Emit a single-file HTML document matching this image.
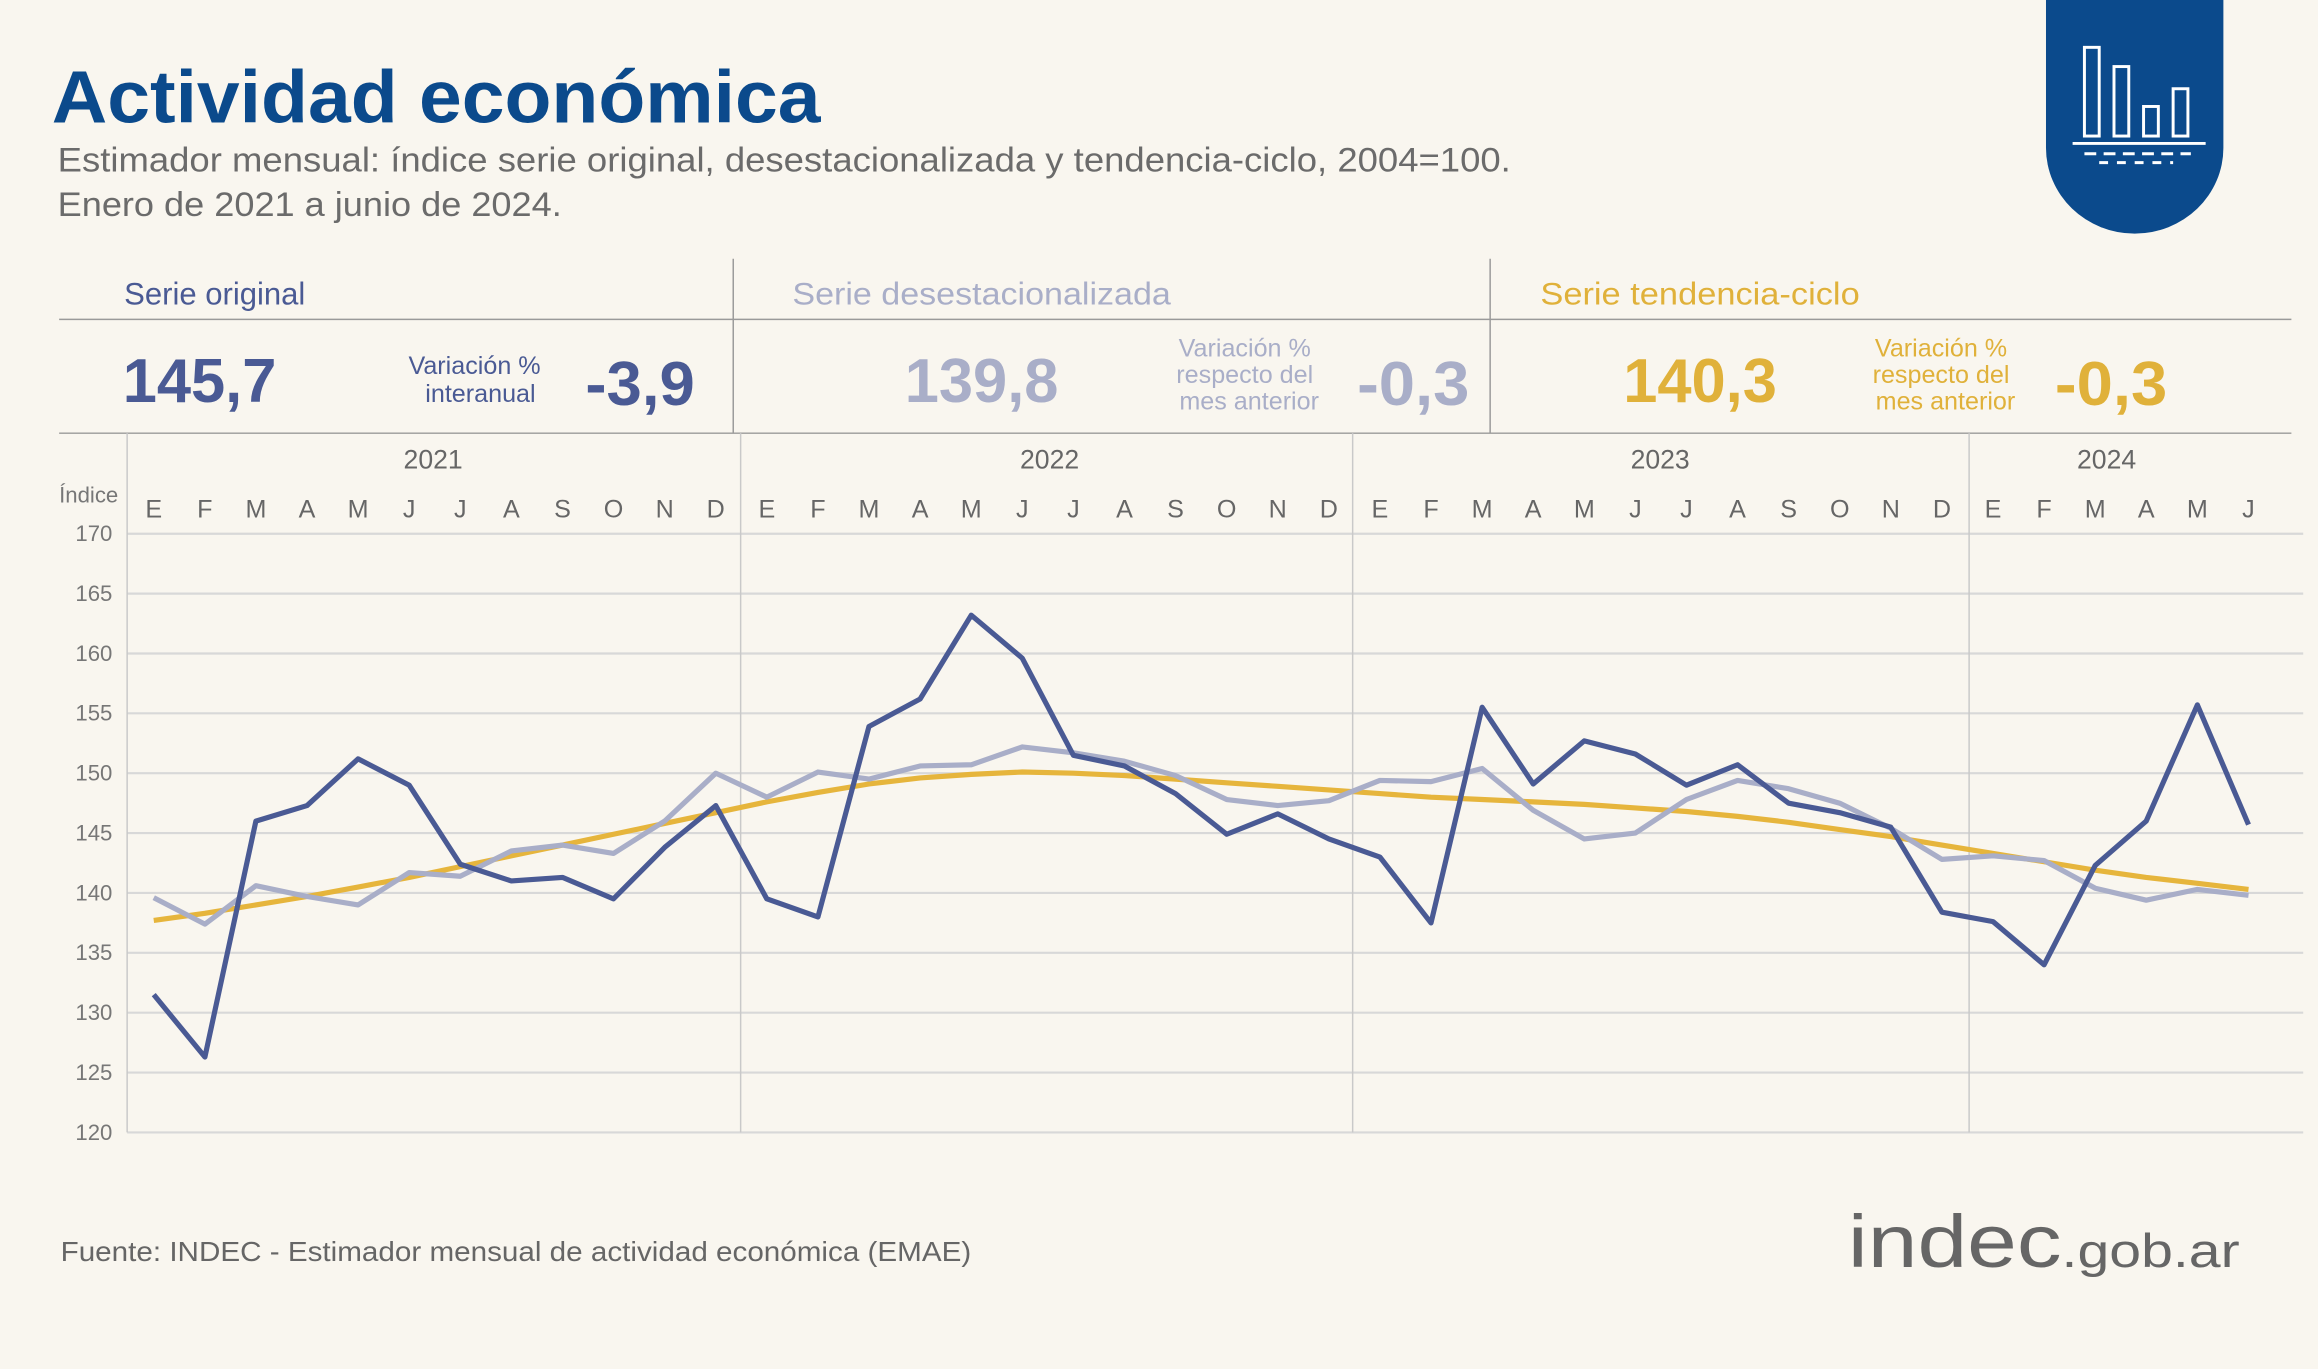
<!DOCTYPE html>
<html><head><meta charset="utf-8"><style>
html,body{margin:0;padding:0;background:#f9f6ef}
svg{display:block}
text{font-family:"Liberation Sans",sans-serif}
</style></head><body>
<svg id="s" width="2318" height="1369" viewBox="0 0 1568 926" xmlns="http://www.w3.org/2000/svg">
<rect width="1568" height="926" fill="#f9f6ef"/>
<text x="35" y="83" font-size="50" font-weight="bold" fill="#0b4a8c" textLength="520" lengthAdjust="spacingAndGlyphs">Actividad económica</text>
<text x="39" y="116" font-size="23" fill="#6b6b6b" textLength="983" lengthAdjust="spacingAndGlyphs">Estimador mensual: índice serie original, desestacionalizada y tendencia-ciclo, 2004=100.</text>
<text x="39" y="146" font-size="23" fill="#6b6b6b" textLength="341" lengthAdjust="spacingAndGlyphs">Enero de 2021 a junio de 2024.</text>
<path d="M1384 0H1504V100A60 58 0 0 1 1384 100Z" fill="#0b4a8c"/>
<g stroke="#fff" stroke-width="2" fill="none">
<rect x="1410" y="32" width="10" height="60"/><rect x="1430" y="45" width="10" height="47"/><rect x="1450" y="72" width="10" height="20"/><rect x="1470" y="60" width="10" height="32"/>
<line x1="1402" y1="97" x2="1492" y2="97"/><line x1="1410" y1="104" x2="1482" y2="104" stroke-dasharray="8 5"/><line x1="1420" y1="110" x2="1470" y2="110" stroke-dasharray="6 6"/>
</g>
<g stroke="#9a9a9a" stroke-width="1">
<line x1="40" y1="216" x2="1550" y2="216"/><line x1="40" y1="293" x2="1550" y2="293"/>
<line x1="496" y1="175" x2="496" y2="293"/><line x1="1008" y1="175" x2="1008" y2="293"/>
</g>
<text x="84" y="206" font-size="21" fill="#4a5a94">Serie original</text>
<text x="536" y="206" font-size="21" fill="#a9aec8" textLength="256" lengthAdjust="spacingAndGlyphs">Serie desestacionalizada</text>
<text x="1042" y="206" font-size="21" fill="#e0b13a" textLength="216" lengthAdjust="spacingAndGlyphs">Serie tendencia-ciclo</text>
<g font-weight="bold" font-size="42">
<text x="83" y="272" fill="#4a5a94" textLength="104" lengthAdjust="spacingAndGlyphs">145,7</text>
<text x="396" y="274" fill="#4a5a94" textLength="74" lengthAdjust="spacingAndGlyphs">-3,9</text>
<text x="612" y="272" fill="#a9aec8" textLength="104" lengthAdjust="spacingAndGlyphs">139,8</text>
<text x="918" y="274" fill="#a9aec8" textLength="76" lengthAdjust="spacingAndGlyphs">-0,3</text>
<text x="1098" y="272" fill="#e0b13a" textLength="104" lengthAdjust="spacingAndGlyphs">140,3</text>
<text x="1390" y="274" fill="#e0b13a" textLength="76" lengthAdjust="spacingAndGlyphs">-0,3</text>
</g>
<g font-size="17" text-anchor="middle">
<text x="321" y="253" fill="#4a5a94">Variación %</text><text x="325" y="272" fill="#4a5a94">interanual</text>
<text x="842" y="241" fill="#a9aec8">Variación %</text><text x="842" y="259" fill="#a9aec8">respecto del</text><text x="845" y="277" fill="#a9aec8">mes anterior</text>
<text x="1313" y="241" fill="#e0b13a">Variación %</text><text x="1313" y="259" fill="#e0b13a">respecto del</text><text x="1316" y="277" fill="#e0b13a">mes anterior</text>
</g>
<g id="grid" stroke="#d8d8d8" stroke-width="1.5"></g>
<g stroke="#c9c9c9" stroke-width="1">
<line x1="86" y1="293" x2="86" y2="766"/><line x1="501" y1="293" x2="501" y2="766"/><line x1="915" y1="293" x2="915" y2="766"/><line x1="1332" y1="293" x2="1332" y2="766"/>
</g>
<g font-size="18" fill="#666" text-anchor="middle">
<text x="293" y="317">2021</text><text x="710" y="317">2022</text><text x="1123" y="317">2023</text><text x="1425" y="317">2024</text>
</g>
<text x="40" y="340" font-size="15" fill="#777">Índice</text>
<g id="ylab" font-size="15" fill="#777" text-anchor="end"></g>
<g id="mlab" font-size="17" fill="#666" text-anchor="middle"></g>
<g id="lines" fill="none" stroke-width="3.5" stroke-linejoin="round"></g>
<text x="41" y="853" font-size="19" fill="#666" textLength="616" lengthAdjust="spacingAndGlyphs">Fuente: INDEC - Estimador mensual de actividad económica (EMAE)</text>
<text x="1250" y="857" font-size="50" fill="#666" textLength="265" lengthAdjust="spacingAndGlyphs">indec<tspan font-size="32">.gob.ar</tspan></text>
</svg>
<script>
var ns="http://www.w3.org/2000/svg";
function el(p,t,a,tx){var e=document.createElementNS(ns,t);for(var k in a)e.setAttribute(k,a[k]);if(tx)e.textContent=tx;document.getElementById(p).appendChild(e);}
function Y(v){return 361+(170-v)*8.1}
function X(i){return 104+i*34.56}
for(var v=120;v<=170;v+=5){el("grid","line",{x1:86,x2:1558,y1:Y(v),y2:Y(v)});el("ylab","text",{x:76,y:Y(v)+5},v);}
var m="EFMAMJJASOND".split("");
for(var i=0;i<42;i++)el("mlab","text",{x:X(i),y:350},m[i%12]);
var orig=[131.5,126.3,146,147.3,151.2,149,142.4,141,141.3,139.5,143.8,147.3,139.5,138,153.9,156.2,163.2,159.6,151.5,150.6,148.3,144.9,146.6,144.5,143,137.5,155.5,149.1,152.7,151.6,149,150.7,147.5,146.7,145.5,138.4,137.6,134,142.3,146,155.7,145.7];
var des=[139.6,137.4,140.6,139.7,139,141.7,141.4,143.5,144,143.3,146,150,148,150.1,149.5,150.6,150.7,152.2,151.7,151,149.8,147.8,147.3,147.7,149.4,149.3,150.4,146.9,144.5,145,147.8,149.4,148.7,147.5,145.4,142.8,143.1,142.7,140.4,139.4,140.3,139.8];
var tr=[137.7,138.3,139,139.7,140.5,141.3,142.2,143.1,144,144.9,145.8,146.7,147.6,148.4,149.1,149.6,149.9,150.1,150,149.8,149.5,149.2,148.9,148.6,148.3,148,147.8,147.6,147.4,147.1,146.8,146.4,145.9,145.3,144.7,144,143.3,142.6,141.9,141.3,140.8,140.3];
function pl(d,c){el("lines","polyline",{stroke:c,points:d.map(function(v,i){return X(i).toFixed(1)+","+Y(v).toFixed(1)}).join(" ")});}
pl(tr,"#e6b53c");pl(des,"#a9aec8");pl(orig,"#4a5a94");
</script>
</body></html>
